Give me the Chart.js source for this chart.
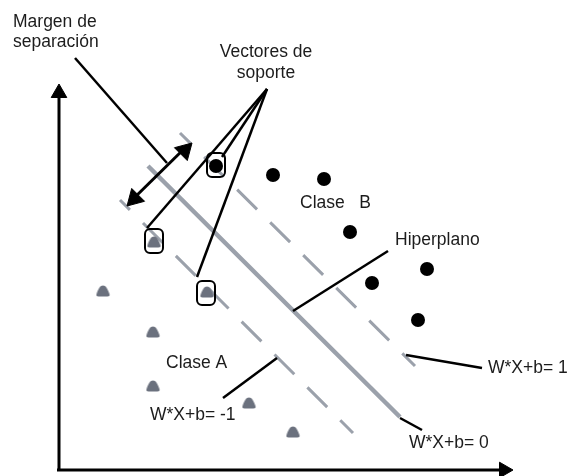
<!DOCTYPE html>
<html>
<head>
<meta charset="UTF-8" />
<title>SVM - margen de separación</title>
<script src="https://cdn.jsdelivr.net/npm/chart.js"></script>
<style>
  html, body { margin: 0; padding: 0; background: #fff; overflow: hidden; }
  canvas { display: block; }
</style>
</head>
<body>
<canvas id="myChart" width="570" height="476"></canvas>
<script>
// --- data (diagram units, y grows downwards) ---
const axisYLine = [{x: 59, y: 470}, {x: 59, y: 92}];
const axisXLine = [{x: 57, y: 470}, {x: 505, y: 470}];
const axisTips = [{x: 59, y: 84, dir: 0, size: 9}, {x: 513, y: 470, dir: 90, size: 9}];

const hyperplane = [{x: 148, y: 166}, {x: 400, y: 417}];
const marginPlus = [{x: 180, y: 133}, {x: 415, y: 366}];
const marginMinus = [{x: 120, y: 200}, {x: 353, y: 433}];

const marginArrow = [{x: 130, y: 202}, {x: 188, y: 145}];
const marginArrowTips = [{x: 192, y: 143, dir: 45, size: 10.5}, {x: 127, y: 206, dir: 225, size: 10.5}];

const pointerLines = [
  [{x: 75, y: 58}, {x: 167, y: 163}],
  [{x: 267, y: 89}, {x: 147, y: 228}],
  [{x: 267, y: 89}, {x: 222, y: 157}],
  [{x: 267, y: 89}, {x: 197, y: 277}],
  [{x: 388, y: 251}, {x: 293, y: 311}],
  [{x: 406, y: 355}, {x: 482, y: 368}],
  [{x: 400, y: 418}, {x: 422, y: 430}],
  [{x: 223, y: 398}, {x: 277, y: 358}]
];

const classB = [
  {x: 216, y: 166}, {x: 273, y: 175}, {x: 324, y: 179}, {x: 350, y: 232},
  {x: 372, y: 283}, {x: 427, y: 269}, {x: 418, y: 320}
];
const classA = [
  {x: 154, y: 242}, {x: 207, y: 292}, {x: 103, y: 291}, {x: 153, y: 332},
  {x: 153, y: 386}, {x: 249, y: 403}, {x: 293, y: 432}
];
const supportVectors = [{x: 216, y: 165}, {x: 154, y: 241}, {x: 206, y: 293}];

const labelTexts = ['Margen de', 'separación', 'Vectores de', 'soporte', 'Clase   B',
  'Hiperplano', 'Clase A', 'W*X+b= -1', 'W*X+b= 1', 'W*X+b= 0'];
const labelX = [13, 13, 266, 266, 300, 395, 166, 150, 488, 409];
const labelY = [27, 47, 57, 78, 208, 245, 368, 420, 373, 448];
const labelAlign = ['left', 'left', 'center', 'center', 'left', 'left', 'left', 'left', 'left', 'left'];

// --- custom point shapes ---
const dome = document.createElement('canvas');
dome.width = 15; dome.height = 12;
(function () {
  const c = dome.getContext('2d');
  c.fillStyle = '#6b717e';
  c.beginPath();
  c.moveTo(3, 11.5);
  c.lineTo(12, 11.5);
  c.quadraticCurveTo(15, 11.5, 13.8, 8.5);
  c.bezierCurveTo(12, 4, 10.5, 0.5, 7.5, 0.5);
  c.bezierCurveTo(4.5, 0.5, 3, 4, 1.2, 8.5);
  c.quadraticCurveTo(0, 11.5, 3, 11.5);
  c.fill();
})();

const box = document.createElement('canvas');
box.width = 22; box.height = 28;
(function () {
  const c = box.getContext('2d');
  c.strokeStyle = '#000';
  c.lineWidth = 2;
  c.beginPath();
  c.roundRect(2, 2, 18, 24, 5);
  c.stroke();
})();

// arrowhead triangle is centred on the point, so step back from the tip
function heads(tips) {
  return tips.map(t => {
    const r = t.dir * Math.PI / 180;
    return {x: t.x - Math.sin(r) * t.size, y: t.y + Math.cos(r) * t.size};
  });
}

const gray = '#9ba1ab';

function seg(data, color, width, order, dash, dashOffset) {
  return {
    type: 'line', data: data, borderColor: color, borderWidth: width,
    pointRadius: 0, borderDash: dash || [], borderDashOffset: dashOffset || 0,
    borderCapStyle: 'butt', fill: false, clip: false, order: order
  };
}

const datasets = [
  seg(hyperplane, gray, 4.5, 9),
  seg(marginPlus, gray, 3, 9, [28, 18.5], 12.5),
  seg(marginMinus, gray, 3, 9, [28, 18.5], 14),
  seg(axisYLine, '#000', 3, 6),
  seg(axisXLine, '#000', 3, 6),
  seg(marginArrow, '#000', 3, 6)
];
pointerLines.forEach(p => datasets.push(seg(p, '#000', 2.5, 7)));

const allTips = axisTips.concat(marginArrowTips);
datasets.push({
  type: 'scatter', data: heads(allTips),
  pointStyle: 'triangle', pointRadius: allTips.map(t => t.size), pointBorderWidth: 1,
  pointBackgroundColor: '#000', pointBorderColor: '#000',
  pointRotation: allTips.map(t => t.dir),
  clip: false, order: 3
});
datasets.push({
  type: 'scatter', data: classB, pointStyle: 'circle', pointRadius: 7,
  pointBackgroundColor: '#000', pointBorderColor: '#000', pointBorderWidth: 0,
  clip: false, order: 2
});
datasets.push({
  type: 'scatter', data: classA, pointStyle: dome, pointRadius: 6,
  clip: false, order: 2
});
datasets.push({
  type: 'scatter', data: supportVectors, pointStyle: box, pointRadius: 6,
  clip: false, order: 1
});

const labelPlugin = {
  id: 'labels',
  afterDraw(chart) {
    const ctx = chart.ctx;
    const xs = chart.scales.x, ys = chart.scales.y;
    ctx.save();
    ctx.font = '17.5px "Liberation Sans", Arial, sans-serif';
    ctx.fillStyle = '#1c1c1c';
    ctx.textBaseline = 'alphabetic';
    labelTexts.forEach((t, i) => {
      ctx.textAlign = labelAlign[i];
      ctx.fillText(t, xs.getPixelForValue(labelX[i]), ys.getPixelForValue(labelY[i]));
    });
    ctx.restore();
  }
};

new Chart(document.getElementById('myChart').getContext('2d'), {
  type: 'scatter',
  data: {datasets: datasets},
  options: {
    responsive: false,
    animation: false,
    layout: {padding: 0, autoPadding: false},
    plugins: {legend: {display: false}, tooltip: {enabled: false}},
    scales: {
      x: {type: 'linear', min: 0, max: 570, display: false},
      y: {type: 'linear', min: 0, max: 476, reverse: true, display: false}
    }
  },
  plugins: [labelPlugin]
});
</script>
</body>
</html>
